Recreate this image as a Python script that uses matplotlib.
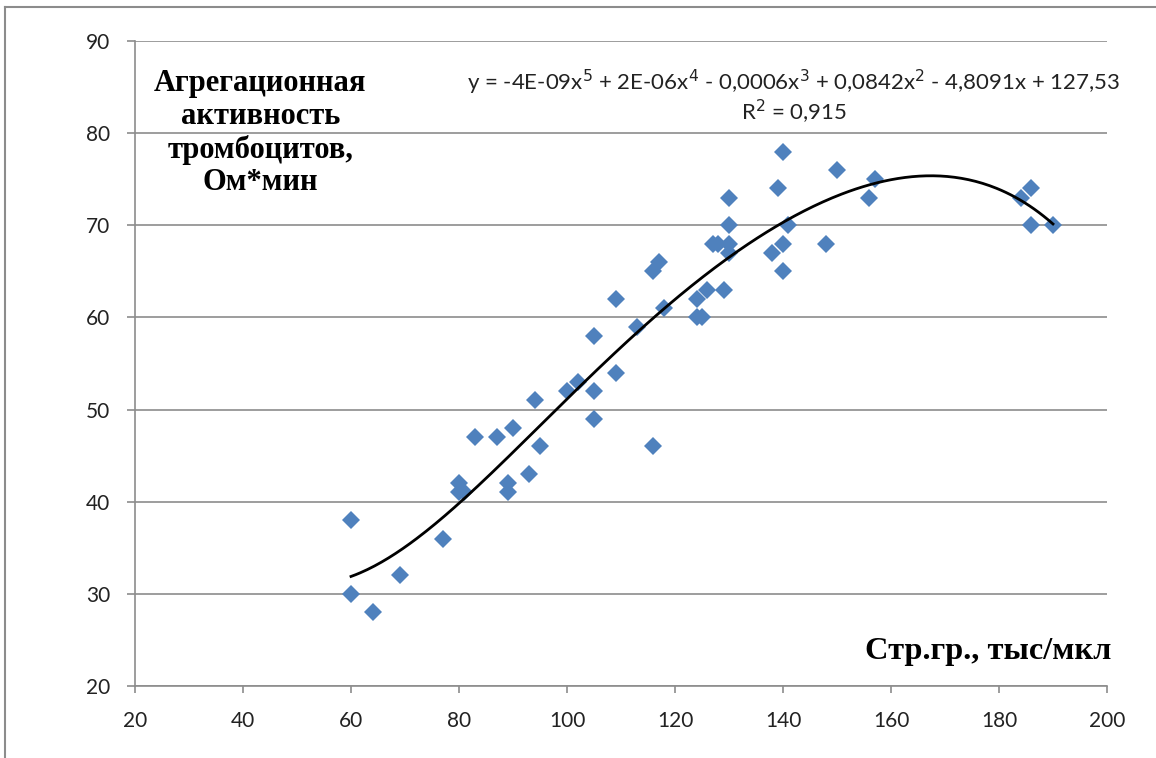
import matplotlib.pyplot as plt
import numpy as np
from matplotlib.lines import Line2D

# platelet count (thousand/uL) vs aggregation activity (Ohm*min)
plt_count = [60, 60, 64, 69, 77, 80, 80, 81, 83, 87, 89, 89, 90, 93, 94, 95,
             100, 102, 105, 105, 105, 109, 109, 113, 116, 117, 116, 118,
             124, 124, 125, 126, 127, 128, 129, 130, 130, 130, 130,
             138, 139, 140, 140, 140, 141, 148, 150, 156, 157,
             184, 186, 186, 190]
aggregation = [38, 30, 28, 32, 36, 42, 41, 41, 47, 47, 42, 41, 48, 43, 51, 46,
               52, 53, 58, 52, 49, 62, 54, 59, 65, 66, 46, 61,
               62, 60, 60, 63, 68, 68, 63, 73, 70, 68, 67,
               67, 74, 78, 68, 65, 70, 68, 76, 73, 75,
               73, 74, 70, 70]

x_ticks = [20, 40, 60, 80, 100, 120, 140, 160, 180, 200]
y_ticks = [20, 30, 40, 50, 60, 70, 80, 90]

x = np.array(plt_count, dtype=float)
y = np.array(aggregation, dtype=float)

# 5th order polynomial trend
coef = np.polyfit(x, y, 5)
xs = np.linspace(x.min(), x.max(), 300)
ys = np.polyval(coef, xs)

fig = plt.figure(figsize=(11.56, 7.58), dpi=100)
ax = fig.add_axes([0.1168, 0.095, 0.8408, 0.8509])

ax.plot(x, y, 'D', color='#4F81BD', markersize=9.4, markeredgewidth=0, zorder=3)
ax.plot(xs, ys, color='black', linewidth=2.0, zorder=4)

ax.set_xlim(20, 200)
ax.set_ylim(20, 90)
ax.set_xticks(x_ticks)
ax.set_yticks(y_ticks)
ax.yaxis.grid(True, color='#8c8c8c', linewidth=1.2)
ax.set_axisbelow(True)
for s in ['top', 'right']:
    ax.spines[s].set_visible(False)
for s in ['left', 'bottom']:
    ax.spines[s].set_color('#8c8c8c')
    ax.spines[s].set_linewidth(1.2)
ax.tick_params(axis='both', colors='#8c8c8c', width=1.2, labelcolor='#222222',
               labelsize=15, direction='out')
ax.tick_params(axis='y', length=5.8, pad=12)
ax.tick_params(axis='x', length=5, pad=13)
for lab in ax.get_xticklabels() + ax.get_yticklabels():
    lab.set_family('Lato')

ax.text(0.129, 0.857, 'Агрегационная\nактивность\nтромбоцитов,\nОм*мин',
        transform=ax.transAxes, ha='center', va='center', fontsize=22,
        fontweight='bold', family='Liberation Serif', linespacing=1.16)
ax.text(1.005, 0.054, 'Стр.гр., тыс/мкл', transform=ax.transAxes, ha='right',
        va='center', fontsize=23.3, fontweight='bold', family='Liberation Serif')

ax.text(0.678, 0.936,
        'y = -4E-09x$^5$ + 2E-06x$^4$ - 0,0006x$^3$ + 0,0842x$^2$ - 4,8091x + 127,53',
        transform=ax.transAxes, ha='center', va='center', fontsize=16,
        family='Lato', color='#222222')
ax.text(0.678, 0.890, 'R$^2$ = 0,915', transform=ax.transAxes, ha='center',
        va='center', fontsize=16, family='Lato', color='#222222')

# outer chart frame
fig.add_artist(Line2D([0.0045, 0.0045], [0.0, 0.991], transform=fig.transFigure,
                      color='#8c8c8c', linewidth=1.5))
fig.add_artist(Line2D([0.0045, 1.0], [0.991, 0.991], transform=fig.transFigure,
                      color='#8c8c8c', linewidth=1.5))

fig.savefig('out.png', dpi=100)
